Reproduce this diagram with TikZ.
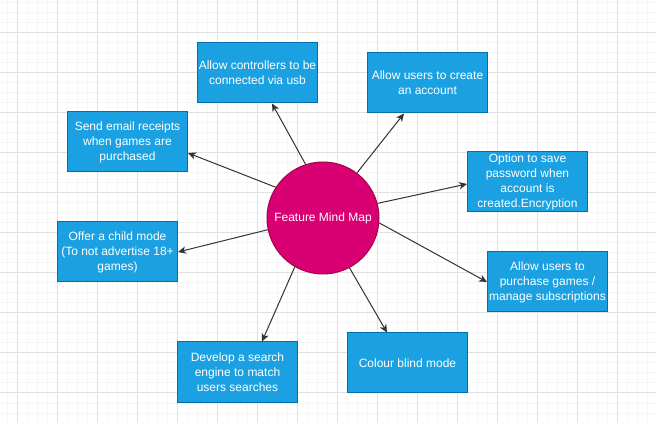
\documentclass[tikz,border=0pt]{standalone}
\usepackage{fontspec}
\setmainfont{Liberation Sans}
\usetikzlibrary{arrows.meta,calc}

\definecolor{boxfill}{HTML}{1BA1E2}
\definecolor{boxline}{HTML}{006EAF}
\definecolor{hubfill}{HTML}{D80073}
\definecolor{hubline}{HTML}{A50040}
\definecolor{gridminor}{HTML}{F6F6F6}
\definecolor{gridmajor}{HTML}{E0E0E0}
\definecolor{edgeline}{HTML}{333333}

\tikzset{
  feature/.style={draw=boxline, fill=boxfill, line width=0.75pt,
    minimum width=90pt, minimum height=45pt, inner sep=0pt,
    align=center, text=white, font=\fontsize{9}{11.25}\selectfont},
  hub/.style={circle, draw=hubline, fill=hubfill, line width=0.75pt,
    minimum size=84pt, inner sep=0pt, text=white,
    font=\fontsize{9}{11.25}\selectfont},
  link/.style={draw=edgeline, line width=0.75pt,
    -{Stealth[length=6pt,width=5.5pt,inset=1.8pt]}},
  minorgrid/.style={draw=gridminor, line width=0.75pt},
  majorgrid/.style={draw=gridmajor, line width=0.75pt}
}

\begin{document}
\begin{tikzpicture}[x=0.75pt, y=-0.75pt]
  \useasboundingbox (0,0) rectangle (656,423);
  \fill[white] (0,0) rectangle (656,423);

  % background grid: 10 px minor, 40 px major
  \foreach \gx in {7,17,...,656} \draw[minorgrid] (\gx,0) -- (\gx,423);
  \foreach \gy in {3,13,...,423} \draw[minorgrid] (0,\gy) -- (656,\gy);
  \foreach \gx in {17,57,...,656} \draw[majorgrid] (\gx,0) -- (\gx,423);
  \foreach \gy in {33,73,...,423} \draw[majorgrid] (0,\gy) -- (656,\gy);

  % central topic
  \node[hub] (hub) at (323,218) {Feature Mind Map};

  % feature boxes
  \node[feature] (usb)     at (257.5,73)  {Allow controllers to be\\connected via usb};
  \node[feature] (account) at (427.5,83)  {Allow users to create\\an account};
  \node[feature] (email)   at (127.5,142) {Send email receipts\\when games are\\purchased};
  \node[feature] (pwd)     at (527.5,182) {Option to save\\password when\\account is\\created.Encryption};
  \node[feature] (child)   at (117.5,252) {Offer a child mode\\(To not advertise 18+\\games)};
  \node[feature] (buy)     at (547.5,282) {Allow users to\\purchase games /\\manage subscriptions};
  \node[feature] (search)  at (237.5,372) {Develop a search\\engine to match\\users searches};
  \node[feature] (colour)  at (407.5,363) {Colour blind mode};

  % connectors from the hub
  \draw[link] (hub.108) -- ($(usb.south)+(14.5,0)$);
  \draw[link] (hub.53)  -- ($(account.south)+(-23.5,0)$);
  \draw[link] (hub.147) -- ($(email.east)+(0,11)$);
  \draw[link] (hub.15)  -- ($(pwd.west)+(0,2)$);
  \draw[link] (hub.192) -- (child.east);
  \draw[link] (hub.-5)  -- (buy.west);
  \draw[link] (hub.240) -- ($(search.north)+(24.5,0)$);
  \draw[link] (hub.-62) -- ($(colour.north)+(-20.5,0)$);
\end{tikzpicture}
\end{document}
